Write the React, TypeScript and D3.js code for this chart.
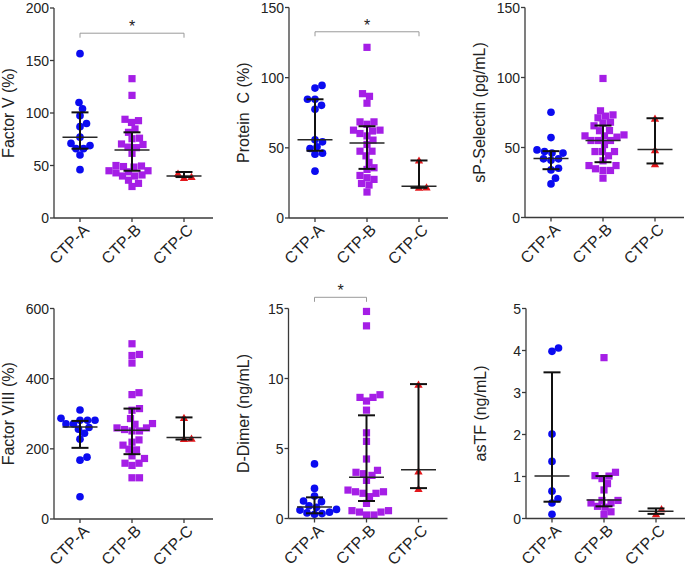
import React from "react";
import * as d3 from "d3";

const categories = ["CTP-A", "CTP-B", "CTP-C"];

// Factor V (%)
const factorV_A = [156.5, 110, 104, 97.5, 90, 87, 77, 71, 69, 66, 66, 60, 46];
const factorV_B = [132.7, 116.8, 94, 92.7, 91, 84.8, 81.6, 76, 75.5, 70.5, 70, 67.5, 67, 61.6, 50, 49.5, 49, 48.5, 45, 45, 44, 43, 41, 40, 40, 36, 33, 30];
const factorV_C = [42.5, 38.4, 39.4];
const factorV_median = [77, 64.8, 40];
const factorV_q1 = [66, 45, 39];
const factorV_q3 = [100.6, 81.6, 43.8];
const factorV_ticks = [0, 50, 100, 150, 200];

// Protein C (%)
const proteinC_A = [94.5, 92.6, 84.6, 84.6, 80.3, 77.5, 55.7, 54.3, 50.7, 49.5, 46.2, 45.5, 33.4];
const proteinC_B = [121.6, 88.6, 86.7, 81.8, 68.5, 68.5, 66.8, 62.6, 62.6, 62, 60.2, 58.5, 55.5, 52.4, 47.6, 47.6, 44.3, 39.6, 35.8, 34.6, 30.3, 28.7, 27.5, 24.6, 23.5, 18.5];
const proteinC_C = [41.2, 21.8, 22];
const proteinC_median = [55.7, 53.5, 22.7];
const proteinC_q1 = [47.9, 35, 21.5];
const proteinC_q3 = [84.6, 65.4, 41];
const proteinC_ticks = [0, 50, 100, 150];

// sP-Selectin (pg/mL)
const sPSel_A = [75.2, 57.1, 48.3, 47.1, 46, 46, 41.9, 41.9, 40.9, 35.2, 34, 28.1, 24];
const sPSel_B = [99.3, 76.2, 73.3, 72.4, 71.2, 68.1, 67.4, 65.5, 62.1, 62, 59, 58.3, 58.3, 57.4, 55, 55, 55, 52.1, 47.1, 47.1, 47.1, 44.1, 40.5, 37.1, 37.1, 34.8, 33.6, 33.6, 28.1];
const sPSel_C = [70.9, 48.3, 38.3];
const sPSel_median = [42.1, 55, 48.6];
const sPSel_q1 = [34.5, 39.5, 38.6];
const sPSel_q3 = [47.4, 65.7, 70.9];
const sPSel_ticks = [0, 50, 100, 150];

// Factor VIII (%)
const factorVIII_A = [310.8, 287, 281.5, 281.5, 281.5, 271, 271, 260.7, 256, 244.5, 227.5, 176.3, 167.8, 63.4];
const factorVIII_B = [499.5, 469, 466, 444.5, 360, 354.5, 314.7, 310, 286.3, 272, 270, 259.6, 259.6, 255, 251, 251, 225.5, 219, 210.5, 199, 197, 180, 172.5, 159, 159, 152.7, 117.5, 117.5];
const factorVIII_C = [289, 229.4, 230];
const factorVIII_median = [262.5, 253, 232.2];
const factorVIII_q1 = [202.8, 184.8, 226.6];
const factorVIII_q3 = [279.6, 314.7, 289.6];
const factorVIII_ticks = [0, 200, 400, 600];

// D-Dimer (ng/mL)
const dDimer_A = [3.9, 2.15, 1.6, 1.25, 1.2, 0.9, 0.8, 0.65, 0.6, 0.45, 0.4, 0.35, 0.3];
const dDimer_B = [14.79, 13.76, 8.84, 8.65, 8.65, 8.39, 7.74, 6.12, 5.51, 4.25, 3.44, 3.3, 3.2, 3.08, 2.72, 2.03, 1.91, 1.91, 1.8, 1.8, 1.56, 1.08, 0.56, 0.56, 0.46, 0.46, 0.25, 0.25];
const dDimer_C = [9.58, 3.39, 2.13];
const dDimer_median = [0.82, 2.95, 3.48];
const dDimer_q1 = [0.37, 1.25, 2.17];
const dDimer_q3 = [1.51, 7.37, 9.6];
const dDimer_ticks = [0, 5, 10, 15];

// asTF (ng/mL)
const asTF_A = [4.06, 3.98, 2.01, 1.36, 0.65, 0.47, 0.37, 0.1];
const asTF_B = [3.83, 1.1, 1.02, 1.01, 0.95, 0.83, 0.68, 0.43, 0.43, 0.37, 0.37, 0.29, 0.27, 0.16, 0.1];
const asTF_C = [0.23, 0.11];
const asTF_median = [1.01, 0.44, 0.17];
const asTF_q1 = [0.4, 0.29, 0.11];
const asTF_q3 = [3.48, 1.01, 0.24];
const asTF_ticks = [0, 1, 2, 3, 4, 5];

const COLORS = ["#0b0bf0", "#a51ee6", "#e3171b"];
const SYMBOLS = [d3.symbolCircle, d3.symbolSquare, d3.symbolTriangle];
const SYMBOL_AREA = [46, 52, 30];
const FONT = "'Liberation Sans', Arial, Helvetica, sans-serif";

type PanelDef = {
  title: string;
  groups: number[][];
  median: number[];
  q1: number[];
  q3: number[];
  ticks: number[];
  sig?: { from: number; to: number; value: number };
  left: number;
  top: number;
  bottom: number;
};

const panels: PanelDef[] = [
  { title: "Factor V (%)", groups: [factorV_A, factorV_B, factorV_C], median: factorV_median, q1: factorV_q1, q3: factorV_q3, ticks: factorV_ticks, sig: { from: 0, to: 2, value: 176 }, left: 54, top: 8, bottom: 218 },
  { title: "Protein  C (%)", groups: [proteinC_A, proteinC_B, proteinC_C], median: proteinC_median, q1: proteinC_q1, q3: proteinC_q3, ticks: proteinC_ticks, sig: { from: 0, to: 2, value: 132.7 }, left: 289, top: 7.5, bottom: 218 },
  { title: "sP-Selectin (pg/mL)", groups: [sPSel_A, sPSel_B, sPSel_C], median: sPSel_median, q1: sPSel_q1, q3: sPSel_q3, ticks: sPSel_ticks, left: 525, top: 7.5, bottom: 217.5 },
  { title: "Factor VIII (%)", groups: [factorVIII_A, factorVIII_B, factorVIII_C], median: factorVIII_median, q1: factorVIII_q1, q3: factorVIII_q3, ticks: factorVIII_ticks, left: 54, top: 308.5, bottom: 519 },
  { title: "D-Dimer (ng/mL)", groups: [dDimer_A, dDimer_B, dDimer_C], median: dDimer_median, q1: dDimer_q1, q3: dDimer_q3, ticks: dDimer_ticks, sig: { from: 0, to: 1, value: 15.8 }, left: 288.5, top: 308.5, bottom: 518.5 },
  { title: "asTF (ng/mL)", groups: [asTF_A, asTF_B, asTF_C], median: asTF_median, q1: asTF_q1, q3: asTF_q3, ticks: asTF_ticks, left: 526, top: 308.5, bottom: 518.5 },
];

function swarm(ys: number[], cx: number, d: number): number[] {
  const order = ys.map((_, i) => i).sort((a, b) => ys[b] - ys[a]);
  const placed: { x: number; y: number }[] = [];
  const xs: number[] = new Array(ys.length).fill(cx);
  for (const i of order) {
    const y = ys[i];
    let chosen = cx;
    outer: for (let k = 0; k < 400; k++) {
      const cands = k === 0 ? [0] : [k * 0.5, -k * 0.5];
      for (const off of cands) {
        const x = cx + off;
        let ok = true;
        for (const p of placed) {
          const dx = p.x - x;
          const dy = p.y - y;
          if (dx * dx + dy * dy < d * d - 0.01) { ok = false; break; }
        }
        if (ok) { chosen = x; break outer; }
      }
    }
    placed.push({ x: chosen, y });
    xs[i] = chosen;
  }
  return xs;
}

function Panel({ p }: { p: PanelDef }) {
  const width = 159;
  const x = d3.scalePoint<string>().domain(categories).range([p.left, p.left + 156]).padding(0.5);
  const yMax = p.ticks[p.ticks.length - 1];
  const y = d3.scaleLinear().domain([0, yMax]).range([p.bottom, p.top]);
  const axisColor = "#3a3a3a";
  const midY = (p.top + p.bottom) / 2;
  const titleX = p.left - 40;
  return (
    <g>
      {p.groups.map((vals, gi) => {
        const cx = x(categories[gi])!;
        const ys = vals.map((v) => y(v));
        const xs = swarm(ys, cx, 7.2);
        const path = d3.symbol().type(SYMBOLS[gi]).size(SYMBOL_AREA[gi])()!;
        return (
          <g key={gi}>
            {vals.map((v, i) => (
              <path key={i} d={path} transform={`translate(${xs[i]},${ys[i] + (gi === 2 ? 1 : 0)})`} fill={COLORS[gi]} />
            ))}
          </g>
        );
      })}
      {categories.map((c, gi) => {
        const cx = x(c)!;
        return (
          <g key={c}>
            <line x1={cx - 17.5} x2={cx + 17.5} y1={y(p.median[gi])} y2={y(p.median[gi])} stroke="#262626" strokeWidth={1.5} />
            <line x1={cx} x2={cx} y1={y(p.q1[gi])} y2={y(p.q3[gi])} stroke="#111" strokeWidth={2} />
            <line x1={cx - 8.5} x2={cx + 8.5} y1={y(p.q1[gi])} y2={y(p.q1[gi])} stroke="#111" strokeWidth={2} />
            <line x1={cx - 8.5} x2={cx + 8.5} y1={y(p.q3[gi])} y2={y(p.q3[gi])} stroke="#111" strokeWidth={2} />
          </g>
        );
      })}
      <line x1={p.left} x2={p.left} y1={p.top} y2={p.bottom} stroke={axisColor} strokeWidth={1.3} />
      {p.ticks.map((t) => (
        <g key={t}>
          <line x1={p.left - 4} x2={p.left} y1={y(t)} y2={y(t)} stroke={axisColor} strokeWidth={1.3} />
          <text x={p.left - 5} y={y(t)} dy="0.36em" textAnchor="end" fontSize={14} fill="#222" fontFamily={FONT}>{t}</text>
        </g>
      ))}
      <line x1={p.left} x2={p.left + width} y1={p.bottom} y2={p.bottom} stroke={axisColor} strokeWidth={1.3} />
      {categories.map((c) => (
        <g key={c}>
          <line x1={x(c)!} x2={x(c)!} y1={p.bottom} y2={p.bottom + 4} stroke={axisColor} strokeWidth={1.3} />
          <text transform={`translate(${x(c)! + 6},${p.bottom + 9}) rotate(-45)`} textAnchor="end" dy="0.35em" fontSize={16} fill="#222" fontFamily={FONT}>{c}</text>
        </g>
      ))}
      <text transform={`translate(${titleX},${midY}) rotate(-90)`} textAnchor="middle" fontSize={16} fill="#222" fontFamily={FONT} style={{ whiteSpace: "pre" }}>{p.title}</text>
      {p.sig && (() => {
        const x1 = x(categories[p.sig!.from])!;
        const x2 = x(categories[p.sig!.to])!;
        const by = y(p.sig!.value);
        return (
          <g>
            <path d={`M${x1},${by + 4.5}V${by}H${x2}V${by + 4.5}`} fill="none" stroke="#9a9a9a" strokeWidth={1} />
            <text x={(x1 + x2) / 2} y={by - 1} textAnchor="middle" fontSize={16} fill="#222" fontFamily={FONT}>*</text>
          </g>
        );
      })()}
    </g>
  );
}

export default function App() {
  return (
    <div style={{ position: "absolute", left: 0, top: 0 }}>
      <svg width={685} height={569} style={{ display: "block", background: "#fff" }}>
        {panels.map((p, i) => (
          <Panel key={i} p={p} />
        ))}
      </svg>
    </div>
  );
}
